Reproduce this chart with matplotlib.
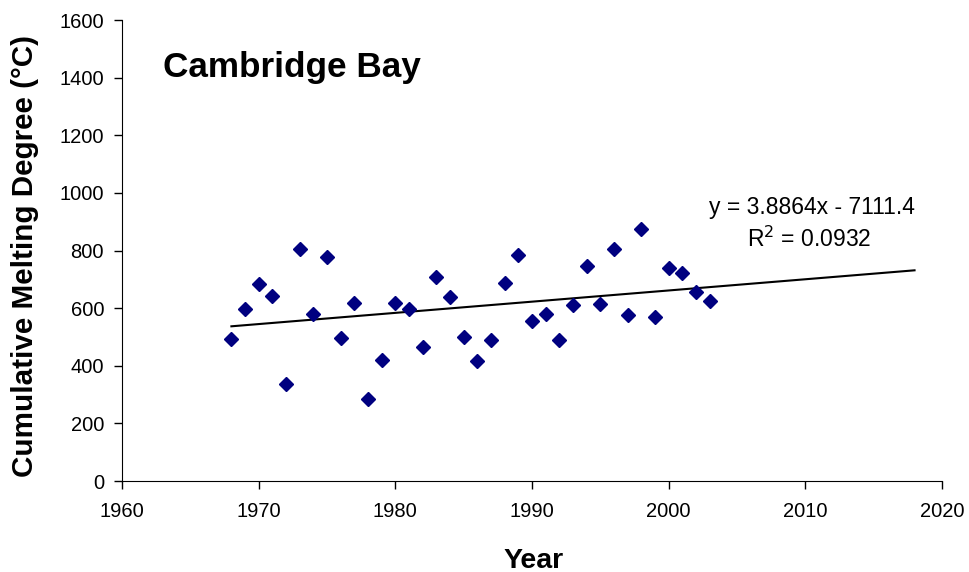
import numpy as np
import matplotlib.pyplot as plt

plt.rcParams['font.family'] = ['Liberation Sans', 'DejaVu Sans']

years = [1968, 1969, 1970, 1971, 1972, 1973, 1974, 1975, 1976, 1977,
         1978, 1979, 1980, 1981, 1982, 1983, 1984, 1985, 1986, 1987,
         1988, 1989, 1990, 1991, 1992, 1993, 1994, 1995, 1996, 1997,
         1998, 1999, 2000, 2001, 2002, 2003]
melt = [494, 598, 685, 641, 336, 804, 581, 778, 498, 618,
        285, 421, 618, 598, 466, 708, 638, 501, 417, 491,
        689, 786, 557, 580, 491, 610, 746, 616, 804, 576,
        874, 568, 739, 723, 657, 626]

# trend line as printed on the chart
slope = 3.8864
intercept = -7111.4
trend_years = [1968, 2018]

fig = plt.figure(figsize=(9.69, 5.72), dpi=100)
ax = fig.add_axes([0.126, 0.159, 0.846, 0.806])

ax.plot(years, melt, 'D', color='#000080', markersize=7, zorder=3)
tx = np.array(trend_years)
ax.plot(tx, slope * tx + intercept, color='black', linewidth=1.5)

ax.set_xlim(1960, 2020)
ax.set_ylim(0, 1600)
ax.set_xticks(range(1960, 2021, 10))
ax.set_yticks(range(0, 1601, 200))
ax.tick_params(labelsize=14.5, direction='out', length=6, width=1)
ax.tick_params(axis='x', pad=9)
ax.tick_params(axis='y', pad=7)
ax.spines['top'].set_visible(False)
ax.spines['right'].set_visible(False)

ax.set_xlabel('Year', fontsize=20.5, fontweight='bold')
ax.set_ylabel('Cumulative Melting Degree (°C)', fontsize=21.3, fontweight='bold')
ax.xaxis.set_label_coords(0.502, -0.145)
ax.yaxis.set_label_coords(-0.101, 0.488)

ax.text(1963.0, 1435, 'Cambridge Bay', fontsize=25.3, fontweight='bold', va='center')
ax.text(2010.5, 951, 'y = 3.8864x - 7111.4', fontsize=16.5, ha='center', va='center')
ax.text(2010.3, 840, 'R$^2$ = 0.0932', fontsize=16.5, ha='center', va='center')

fig.savefig('out.png', dpi=100)
